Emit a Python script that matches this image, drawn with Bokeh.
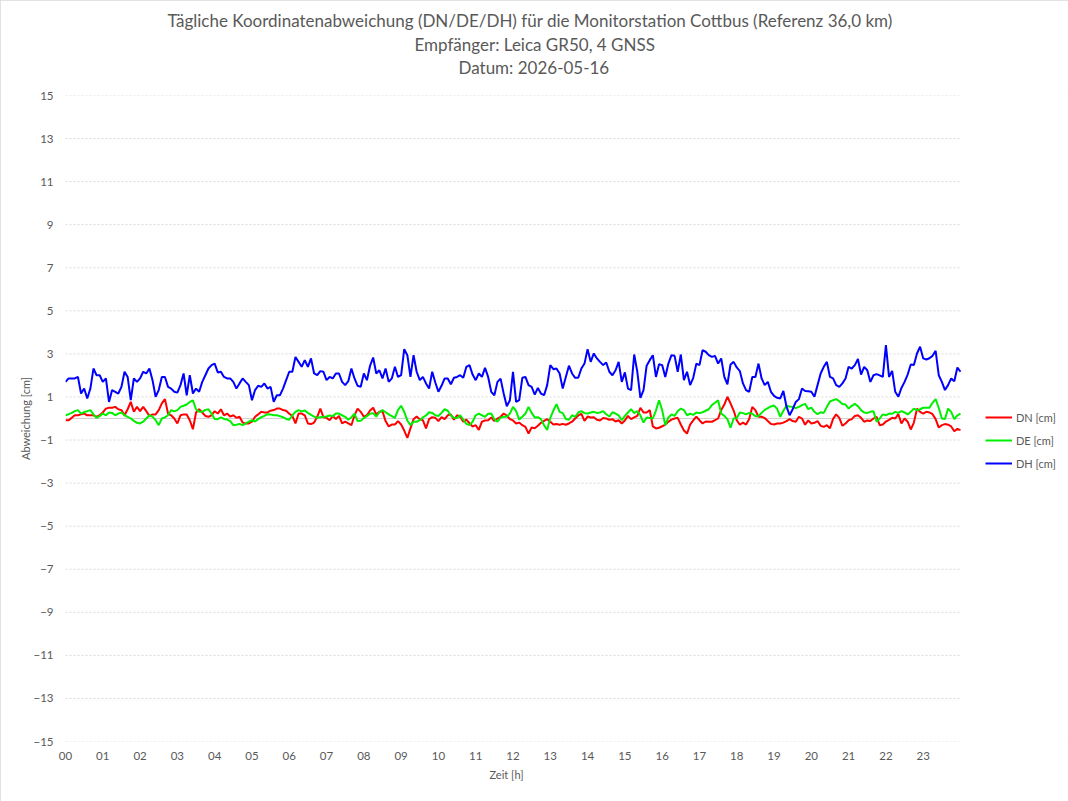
from bokeh.plotting import figure
from bokeh.models import Range1d, FixedTicker, Legend, LegendItem, Title, ColumnDataSource
from bokeh.embed import file_html
from bokeh.resources import INLINE

title_lines = [
    "Tägliche Koordinatenabweichung (DN/DE/DH) für die Monitorstation Cottbus (Referenz 36,0 km)",
    "Empfänger: Leica GR50, 4 GNSS",
    "Datum: 2026-05-16",
]
x_title = "Zeit [h]"
y_title = "Abweichung [cm]"
hour_labels = ["%02d" % h for h in range(24)]
y_ticks = list(range(-15, 16, 2))
series_names = ["DN [cm]", "DE [cm]", "DH [cm]"]
series_colors = ["#ff0000", "#00ee00", "#0000ff"]

# 5-minute samples, 00:00 .. 24:00
dh = [1.70, 1.86, 1.86, 1.86, 1.93, 1.16, 1.39, 0.93, 1.39, 2.32,
      2.01, 2.01, 1.70, 1.86, 0.77, 1.32, 1.24, 1.16, 1.47, 2.17,
      1.93, 0.85, 1.86, 1.70, 1.86, 2.17, 2.09, 2.32, 1.78, 1.01,
      1.32, 1.93, 1.93, 1.47, 1.39, 1.24, 1.20, 1.55, 2.09, 1.08,
      2.01, 1.16, 1.39, 1.24, 1.70, 2.01, 2.32, 2.48,
      2.55, 2.14, 2.17, 1.93, 1.86, 1.86, 1.70, 1.39, 1.63, 1.86,
      1.70, 1.55, 0.85, 1.32, 1.52, 1.47, 1.63, 1.39, 1.47, 0.77,
      1.08, 1.08, 1.39, 1.78, 2.17, 2.17, 2.86, 2.63, 2.40, 2.71,
      2.40, 2.79, 2.09, 2.01, 2.20, 2.17, 1.78, 1.93, 1.86, 2.09,
      2.09, 1.70, 1.55, 1.73, 2.32, 1.86,
      1.52, 1.47, 2.09, 1.78, 2.45, 2.83, 2.09, 2.24, 1.86, 2.32,
      1.70, 1.86, 2.40, 1.93, 2.01, 3.22, 2.94, 1.93, 2.94, 2.17,
      1.78, 1.93, 1.63, 1.39, 2.17, 1.67, 1.24, 1.52, 1.86, 1.86,
      1.59, 1.89, 1.93, 2.01, 1.89, 2.40, 2.48, 2.04, 1.78, 2.09,
      1.93, 2.35, 1.93, 1.24, 1.08, 1.70,
      1.85,
      1.16, 0.57, 0.85, 2.17, 0.77, 0.85, 1.89, 1.93, 1.55, 1.47,
      1.11, 1.42, 1.16, 1.08, 1.55, 2.48, 2.29, 2.32, 2.09, 1.39,
      1.93, 2.45, 2.09, 1.89, 1.89, 2.32, 2.55, 3.22, 2.63, 3.02,
      2.79, 2.63, 2.48, 2.60, 2.17, 2.01, 2.24, 2.63, 1.70, 2.14,
      1.39, 1.32, 2.97, 2.17, 0.96, 1.32,
      2.45, 2.71, 2.94, 1.93, 2.52, 2.48, 1.93, 2.55, 2.94, 2.91,
      2.17, 2.97, 1.78, 2.17, 1.55, 1.89, 2.55, 2.48, 3.17, 3.10,
      2.94, 2.86, 2.91, 2.55, 2.79, 1.93, 1.59, 2.51, 2.63, 2.37,
      2.20, 1.63, 1.32, 1.24, 1.93, 1.93, 2.55, 1.86, 1.55, 1.70,
      1.24, 1.05, 0.96, 0.93, 1.28, 0.56, 0.15,
      0.43, 0.77, 0.90, 1.39, 1.28, 1.27, 1.24, 1.01, 1.55, 2.09,
      2.40, 2.63, 1.93, 1.86, 1.55, 1.47, 1.63, 1.86, 2.40, 2.32,
      2.48, 2.76, 2.04, 2.40, 2.24, 1.70, 2.01, 2.06, 2.00, 1.93,
      3.41, 1.93, 2.21, 1.24, 1.01, 1.42, 1.70, 2.04, 2.51, 2.48,
      3.02, 3.33, 2.79, 2.74, 2.80, 2.91, 3.14, 2.01, 1.70, 1.32,
      1.55, 1.86, 1.73, 2.37, 2.17]

dn = [-0.08, -0.08, 0.03, 0.15, 0.15, 0.19, 0.23, 0.15, 0.15, 0.15,
      0.08, 0.15, 0.28, 0.46, 0.50, 0.50, 0.54, 0.43, 0.39, 0.15,
      0.43, 0.77, 0.31, 0.54, 0.34, 0.54, 0.34, 0.12, 0.19, 0.19,
      0.39, 0.70, 0.90, 0.23, 0.15, 0.00, -0.23, 0.15, 0.19, 0.19,
      -0.08, -0.50, 0.28, 0.43, 0.28, 0.12, 0.08, 0.15,
      0.34, 0.23, 0.43, 0.15, 0.23, 0.09, 0.15, 0.03, 0.08, -0.19,
      -0.23, -0.23, -0.15, 0.08, 0.19, 0.31, 0.28, 0.28, 0.36, 0.39,
      0.46, 0.46, 0.39, 0.36, 0.22, 0.12, -0.23, 0.23, 0.23, 0.15,
      -0.23, -0.26, -0.19, 0.08, 0.46, 0.06, 0.03, -0.08, 0.12, -0.03,
      0.12, -0.23, -0.15, -0.23, -0.31, 0.15,
      0.46, 0.31, 0.08, 0.15, 0.37, 0.50, 0.19, 0.31, 0.34, -0.12,
      -0.37, -0.28, -0.28, -0.12, -0.28, -0.56, -0.90, -0.46, -0.03, 0.09,
      -0.03, -0.08, -0.46, -0.03, 0.06, 0.03, -0.12, 0.06, -0.03, 0.15,
      0.19, -0.06, 0.15, 0.08, -0.15, -0.05, -0.22, -0.37, -0.31, -0.53,
      -0.15, -0.09, -0.08, 0.05, -0.12, 0.00,
      0.08,
      0.23, 0.14, -0.03, -0.09, -0.23, -0.19, -0.31, -0.39, -0.70, -0.42,
      -0.45, -0.34, -0.20, -0.11, -0.03, -0.15, -0.28, -0.26, -0.29, -0.25,
      -0.29, -0.23, -0.15, 0.00, 0.14, 0.22, -0.11, 0.09, 0.05, 0.06,
      -0.06, -0.09, 0.02, 0.00, -0.06, -0.03, -0.14, -0.08, -0.23, -0.09,
      0.12, -0.03, 0.05, 0.12, 0.50, 0.28,
      0.28, 0.39, -0.37, -0.46, -0.43, -0.36, -0.28, -0.15, -0.05, 0.00,
      0.03, -0.28, -0.56, -0.70, -0.28, -0.09, 0.09, -0.08, -0.23, -0.14,
      -0.15, -0.15, -0.08, 0.00, 0.39, 0.65, 1.01, 0.70, 0.37, -0.08,
      -0.29, -0.19, -0.28, -0.02, 0.53, 0.39, 0.08, 0.08, 0.02, -0.12,
      -0.25, -0.28, -0.23, -0.23, -0.19, -0.12, -0.03,
      -0.12, -0.15, 0.08, 0.00, -0.29, -0.09, -0.23, -0.20, -0.12, -0.34,
      -0.39, -0.31, -0.45, -0.02, 0.19, 0.03, -0.34, -0.23, -0.08, -0.03,
      0.12, 0.15, 0.03, -0.15, -0.09, -0.12, 0.00, 0.08, -0.31, -0.28,
      -0.14, -0.06, 0.03, 0.00, 0.20, -0.23, 0.00, -0.15, -0.51, -0.19,
      0.46, 0.31, 0.23, 0.31, 0.28, 0.20, -0.03, -0.42, -0.31, -0.26,
      -0.29, -0.37, -0.59, -0.48, -0.54]

de = [0.15, 0.20, 0.26, 0.34, 0.39, 0.23, 0.30, 0.34, 0.39, 0.19,
      0.03, 0.11, 0.23, 0.15, 0.28, 0.26, 0.15, 0.23, 0.28, 0.15,
      0.08, 0.00, -0.11, -0.20, -0.23, -0.15, 0.00, 0.15, 0.09, -0.08,
      -0.31, 0.00, 0.05, 0.15, 0.39, 0.33, 0.39, 0.54, 0.59, 0.65,
      0.77, 0.84, 0.43, 0.31, 0.31, 0.40, 0.43, 0.23,
      -0.02, -0.03, 0.05, -0.02, -0.05, -0.12, -0.31, -0.29, -0.25, -0.31,
      -0.23, -0.15, -0.08, -0.14, -0.03, 0.06, 0.12, 0.20, 0.19, 0.15,
      0.15, 0.11, 0.06, -0.02, -0.06, 0.15, 0.31, 0.39, 0.33, 0.37,
      0.26, 0.17, 0.09, 0.03, 0.06, 0.08, 0.09, 0.14, 0.11, 0.23,
      0.23, 0.15, 0.08, -0.06, 0.06, 0.22,
      -0.12, -0.11, 0.02, 0.11, 0.22, 0.25, 0.09, 0.29, 0.39, 0.29,
      0.19, 0.11, 0.03, 0.40, 0.59, 0.31, -0.09, -0.31, -0.15, -0.15,
      -0.08, 0.05, 0.14, 0.29, 0.26, 0.15, 0.12, 0.26, 0.43, 0.36,
      0.14, 0.03, 0.02, 0.15, -0.05, -0.25, -0.31, -0.15, 0.15, 0.23,
      0.15, 0.08, 0.22, 0.23, -0.03, -0.15,
      0.04,
      0.08, 0.08, 0.23, 0.54, 0.34, -0.05, 0.08, 0.23, 0.54, 0.26,
      0.05, 0.06, -0.03, -0.31, -0.53, 0.03, 0.37, 0.67, 0.31, 0.25,
      -0.02, -0.06, 0.15, 0.08, 0.28, 0.34, 0.25, 0.23, 0.28, 0.31,
      0.26, 0.28, 0.34, 0.20, 0.09, 0.29, 0.23, 0.15, -0.08, 0.12,
      0.28, 0.43, 0.25, 0.34, 0.15, -0.19,
      0.05, 0.02, 0.00, 0.37, 0.85, 0.39, -0.31, 0.05, 0.19, 0.12,
      0.34, 0.46, 0.39, 0.15, 0.22, 0.17, 0.28, 0.25, 0.29, 0.36,
      0.43, 0.62, 0.73, 0.84, 0.23, 0.12, -0.03, -0.43, 0.00, 0.02,
      0.28, 0.25, 0.19, 0.26, 0.22, 0.11, 0.11, 0.26, 0.40, 0.48,
      0.56, 0.60, 0.45, 0.08, 0.36, 0.59, 0.56,
      0.54, 0.48, 0.54, 0.62, 0.68, 0.43, 0.51, 0.31, 0.20, 0.29,
      0.26, 0.54, 0.79, 0.85, 0.90, 0.80, 0.67, 0.65, 0.46, 0.59,
      0.68, 0.57, 0.39, 0.28, 0.26, 0.31, 0.34, -0.15, 0.00, 0.19,
      0.15, 0.23, 0.22, 0.31, 0.26, 0.34, 0.28, 0.19, 0.31, 0.46,
      0.39, 0.43, 0.50, 0.50, 0.50, 0.73, 0.90, 0.50, 0.00, -0.02,
      0.46, 0.31, -0.03, 0.15, 0.23]

DAY_HOURS = 24
SAMPLES_PER_HOUR = 12
t_dn = [i / SAMPLES_PER_HOUR for i in range(len(dn))]
t_de = [i / SAMPLES_PER_HOUR for i in range(len(de))]
t_dh = [i / SAMPLES_PER_HOUR for i in range(len(dh))]

FONT = "Lato"
GREY = "#595959"

# layout (pixels)
W, H = 1068, 801
LEFT, TOP, BOTTOM = 65, 95, 60
PLOT_W = 895            # width of the 24 h data area
FRAME_W = W - LEFT      # frame extends to the right edge to host the legend
FRAME_H = H - TOP - BOTTOM
x_end = DAY_HOURS * FRAME_W / PLOT_W

p = figure(frame_width=FRAME_W, frame_height=FRAME_H, output_backend="svg", toolbar_location=None,
           title=None, x_range=Range1d(0, x_end), y_range=Range1d(-15, 15),
           min_border_left=LEFT, min_border_right=0, min_border_top=TOP, min_border_bottom=BOTTOM)
p.outline_line_color = None
p.background_fill_color = "white"
p.border_fill_color = "white"
p.styles = {"outline": "1px solid #d9d9d9", "outline-offset": "-1px"}

# titles: nearest to the frame is added first (spacer, line 3, line 2, line 1)
p.add_layout(Title(text=" ", text_font_size="1px", standoff=14), "above")
title_offsets = [102, 349, 393]
title_standoffs = [2, 0, 1]
for txt, off, so in reversed(list(zip(title_lines, title_offsets, title_standoffs))):
    p.add_layout(Title(text=txt, align="left", offset=off, text_font=FONT, text_font_size="17px",
                       text_font_style="normal", text_color=GREY, standoff=so,
                       vertical_align="bottom"), "above")

# axes
for ax in (p.xaxis[0], p.yaxis[0]):
    ax.axis_line_color = None
    ax.major_tick_line_color = None
    ax.minor_tick_line_color = None
    ax.major_tick_out = 0
    ax.major_tick_in = 0
    ax.minor_tick_out = 0
    ax.minor_tick_in = 0
    ax.major_label_text_font = FONT
    ax.major_label_text_font_size = "11.5px"
    ax.major_label_text_color = GREY
    ax.axis_label_text_font = FONT
    ax.axis_label_text_font_size = "11px"
    ax.axis_label_text_font_style = "normal"
    ax.axis_label_text_color = GREY

p.yaxis.ticker = FixedTicker(ticks=y_ticks)
p.yaxis.major_label_standoff = 12
p.yaxis.axis_label = y_title
p.yaxis.axis_label_standoff = -2

p.xaxis.ticker = FixedTicker(ticks=list(range(DAY_HOURS)))
p.xaxis.major_label_overrides = {i: lab for i, lab in enumerate(hour_labels)}
p.xaxis.major_label_standoff = 10
p.add_layout(Title(text=x_title, align="left", offset=424, text_font=FONT, text_font_size="11px",
                   text_font_style="normal", text_color=GREY, standoff=10, vertical_align="top"), "below")

# horizontal gridlines and zero line over the 24 h span
p.xgrid.visible = False
p.ygrid.visible = False
p.segment(x0=[0] * len(y_ticks), x1=[DAY_HOURS] * len(y_ticks), y0=y_ticks, y1=y_ticks,
          line_color="#d9d9d9", line_dash="2 2", line_width=1)
p.segment(x0=[0], x1=[DAY_HOURS], y0=[0], y1=[0], line_color="#d0d0d0", line_width=1)

renderers = []
for xs, ys, col in [(t_dn, dn, series_colors[0]), (t_de, de, series_colors[1]), (t_dh, dh, series_colors[2])]:
    src = ColumnDataSource(data=dict(x=xs, y=ys))
    renderers.append(p.line("x", "y", source=src, line_color=col, line_width=2))

legend = Legend(items=[LegendItem(label=n, renderers=[r]) for n, r in zip(series_names, renderers)],
                location=(PLOT_W + 25, 268), glyph_width=27, glyph_height=20, label_height=20,
                spacing=3, padding=0, margin=0, border_line_color=None, background_fill_alpha=0,
                label_text_font=FONT, label_text_font_size="11px", label_text_color=GREY,
                label_standoff=4)
p.add_layout(legend)

open("out.html", "w").write(file_html(p, INLINE))
